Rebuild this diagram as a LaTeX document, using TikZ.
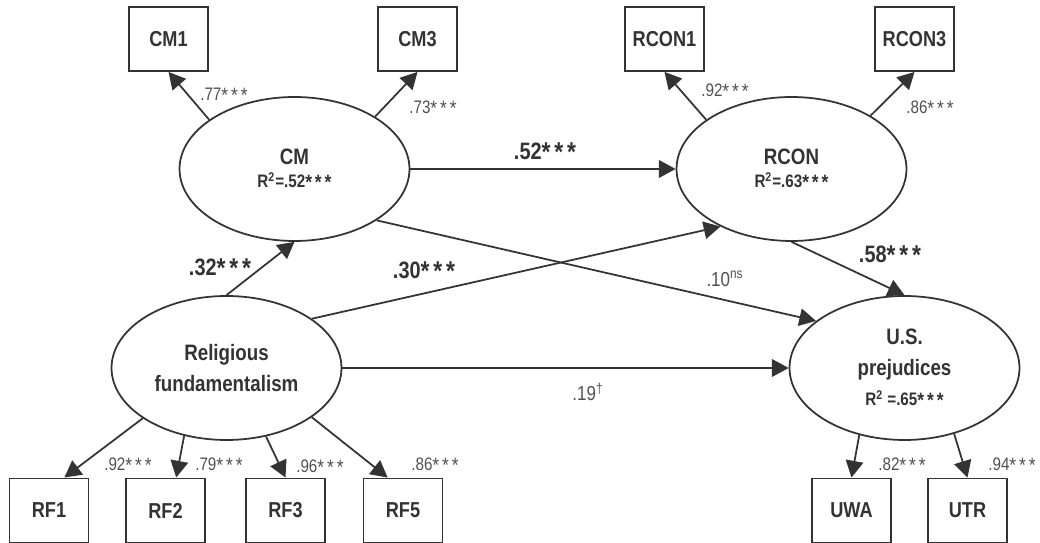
\documentclass[tikz,border=0pt]{standalone}
\usepackage{fontspec}
\usepackage{graphicx}
\setmainfont{Liberation Sans}[FakeStretch=0.84]
\usetikzlibrary{arrows.meta,shapes.geometric}
\definecolor{ink}{HTML}{333333}
\definecolor{lite}{HTML}{505050}
\newcommand\stars{\raisebox{-0.08em}{\scalebox{1.15}{*\kern.14em*\kern.14em*}}}

\begin{document}
\begin{tikzpicture}[x=0.02cm,y=0.02cm,
    ind/.style={draw=ink,line width=1.1pt,minimum width=1.58cm,minimum height=1.28cm,
        font=\bfseries\fontsize{12.3}{15}\selectfont,text=ink},
    lat/.style={ellipse,draw=ink,line width=1pt,minimum width=4.6cm,minimum height=2.88cm,
        inner sep=0pt,align=center,font=\bfseries\fontsize{12.7}{17.5}\selectfont,text=ink},
    arr/.style={draw=ink,line width=1pt,-{Triangle[length=9.5pt,width=10pt]}},
    load/.style={font=\fontsize{10.3}{12}\selectfont,text=lite},
    coef/.style={font=\bfseries\fontsize{13.5}{15}\selectfont,text=ink},
    sm/.style={font=\fontsize{11.5}{13}\selectfont,text=lite}]
        \useasboundingbox (0,0) rectangle (1040,543);

        % latent variables
        \node[lat] (CM) at (294.5,374) {CM\\[-4pt]{\fontsize{10.3}{12}\selectfont R\textsuperscript{2}=.52\stars}};
        \node[lat] (RCON) at (791.5,374) {RCON\\[-4pt]{\fontsize{10.3}{12}\selectfont R\textsuperscript{2}=.63\stars}};
        \node[lat] (RF) at (226.5,175) {Religious\\fundamentalism};
        \node[lat] (US) at (904.5,175) {U.S.\\prejudices\\{\fontsize{10.3}{12}\selectfont R\textsuperscript{2} =.65\stars}};

        % indicators
        \foreach \n/\x/\y in {CM1/168.5/504, CM3/417.5/504, RCON1/664.5/504, RCON3/914.5/504,
                RF1/49/32.5, RF2/165.5/32.5, RF3/285.5/32.5, RF5/403/32.5, UWA/851.5/32.5, UTR/967.5/32.5} {
                \node[ind] (\n) at (\x,\y) {\n};
            }

        \foreach \a/\b in {CM.150/CM1.south, CM.33/CM3.south, RCON.150/RCON1.south, RCON.34/RCON3.south,
                RF.211/RF1.65, RF.238/RF2.72, RF.300/RF3.north, RF.330/RF5.115,
                US.236/UWA.north, US.307/UTR.north} {
                \draw[arr] (\a) -- (\b);
            }

        % structural paths
        \draw[arr] (CM.east) -- (RCON.west);
        \draw[arr] (CM.-32) -- (US.152);
        \draw[arr] (RF.north) -- (CM.south);
        \draw[arr] (RF.30) -- (RCON.219);
        \draw[arr] (RF.east) -- (US.west);
        \draw[arr] (RCON.south) -- (US.north);

        \foreach \x/\y/\t [count=\i] in {224/448/.77, 433/435/.73, 725/452/.92, 930/435/.86,
                128/78/.92, 219/78/.79, 320/76/.96, 435/78/.86, 902/78/.82, 1012/78/.94} {
                \node[load] (l\i) at (\x,\y) {\t\stars};
            }

        \node[coef] (c52) at (545,391) {.52\stars};
        \node[coef] (c32) at (220,275) {.32\stars};
        \node[coef] (c30) at (424,272) {.30\stars};
        \node[coef] (c58) at (890,288) {.58\stars};
        \node[sm] (c10) at (725,264) {.10\textsuperscript{ns}};
        \node[sm] (c19) at (588,151) {.19\textsuperscript{\textdagger}};
\end{tikzpicture}
\end{document}
